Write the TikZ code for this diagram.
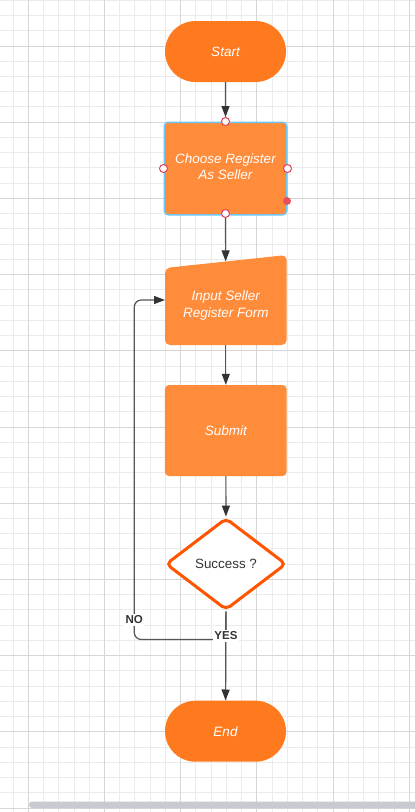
\documentclass[tikz,border=0pt]{standalone}
\usepackage{fontspec}
\setmainfont{Liberation Sans}
\usetikzlibrary{arrows.meta,shapes.geometric,shapes.misc}
\definecolor{startc}{HTML}{FF7A1F}
\definecolor{boxc}{HTML}{FF8C3A}
\definecolor{selc}{HTML}{6EC6EE}
\definecolor{handc}{HTML}{E0445A}
\definecolor{dotc}{HTML}{E8505E}
\definecolor{linec}{HTML}{555555}
\definecolor{tipc}{HTML}{333333}
\definecolor{diac}{HTML}{FF5500}
\definecolor{gridminor}{HTML}{EBEBEB}
\definecolor{gridmajor}{HTML}{D6D6D6}
\definecolor{barc}{HTML}{C8CACF}
\newcommand\itlab{\fontsize{13.5}{16.5}\selectfont\itshape}
\newcommand\uplab{\fontsize{13.4}{16.5}\selectfont}
\newcommand\bdlab{\fontsize{11.5}{13}\selectfont\bfseries}
\tikzset{
  term/.style={rounded rectangle, fill=startc, minimum width=121pt, minimum height=61pt,
    inner sep=0pt, font=\itlab, text=white},
  procbox/.style={rectangle, rounded corners=4pt, fill=boxc, minimum width=121.7pt,
    minimum height=91pt, inner sep=0pt, font=\itlab, text=white, align=center},
  txt/.style={inner sep=0pt, font=\itlab, text=white, align=center},
  handle/.style={circle, draw=handc, fill=white, minimum size=8pt, inner sep=0pt, line width=1pt},
  conn/.style={draw=linec, line width=1.2pt, -{Triangle[length=11pt,width=8pt,color=tipc]}},
  lab/.style={fill=white, font=\bdlab, text=tipc, inner sep=1.5pt},
}
\begin{document}
\begin{tikzpicture}[x=1pt,y=-1pt]
\useasboundingbox (0,0) rectangle (415,812);
\fill[white] (0,0) rectangle (415,812);
% grid
\foreach \i in {0,...,26} \draw[gridminor, line width=1pt] (13.05+\i*15.24,0) -- (13.05+\i*15.24,812);
\foreach \i in {0,...,53} \draw[gridminor, line width=1pt] (0,0.28+\i*15.24) -- (415,0.28+\i*15.24);
\foreach \i in {0,...,5} \draw[gridmajor, line width=1pt] (28.3+\i*76.2,0) -- (28.3+\i*76.2,812);
\foreach \i in {0,...,10} \draw[gridmajor, line width=1pt] (0,46+\i*76.2) -- (415,46+\i*76.2);
% scrollbar
\fill[barc, rounded corners=3pt] (29,801.5) rectangle (422,808);

% nodes
\node[term] (start) at (225.5,51.5) {Start};
\node[procbox, draw=selc, line width=1.5pt, minimum width=122.5pt, minimum height=92.5pt] (choose) at (225.5,168.5) {};
\node[txt] (choosetxt) at (225.5,166.5) {Choose Register\\As Seller};
\fill[boxc, rounded corners=5pt] (165,268) -- (286.7,255) -- (286.7,345) -- (165,345) -- cycle;
\node[rectangle, minimum width=121.7pt, minimum height=83.5pt, inner sep=0pt] (input) at (225.8,303.3) {};
\node[txt] (inputtxt) at (225.8,305.5) {Input Seller\\Register Form};
\coordinate (inleft) at (165,300);
\node[procbox] (submit) at (225.8,430.5) {Submit};
\node[diamond, draw=diac, line width=3pt, fill=white, rounded corners=5pt, minimum width=120.5pt,
  minimum height=92pt, inner sep=0pt, font=\uplab, text=tipc] (dia) at (226,564) {Success ?};
\node[term] (end) at (225.5,731.2) {End};

% selection handles
\node[handle] (h1) at (choose.north) {};
\node[handle] (h2) at (choose.west) {};
\node[handle] (h3) at (choose.east) {};
\node[handle] (h4) at ([yshift=2pt]choose.south) {};
\fill[dotc] (287,201) circle (4pt);

% connectors
\coordinate (noA) at (134.3,639.5);
\draw[conn] (start) -- (h1);
\draw[conn] (h4) -- (input);
\draw[conn] (input) -- (submit);
\draw[conn] (submit) -- (dia);
\draw[conn] (dia) -- (end);
\draw[conn, rounded corners=7pt] (dia.south) |- (noA) |- (inleft);
\node[lab] (nolab) at (134.3,620) {NO};
\node[lab] (yeslab) at (226,636) {YES};
\end{tikzpicture}
\end{document}
